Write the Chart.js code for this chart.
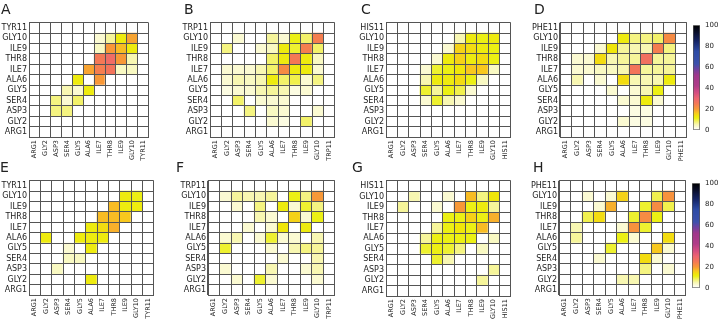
<!DOCTYPE html>
<html>
<head>
<meta charset="utf-8">
<script src="https://cdn.jsdelivr.net/npm/chart.js@4.4.0/dist/chart.umd.min.js"></script>
<style>
  body { margin: 0; background: #fff; }
  #fig { position: relative; width: 720px; height: 320px; overflow: hidden; font-family: "DejaVu Sans", sans-serif; }
  #fig canvas { position: absolute; }
  .tag { position: absolute; font-size: 14px; line-height: 1; color: #222; }
</style>
</head>
<body>
<div id="fig"></div>
<script>
// residues along both axes (last one differs per peptide)
const residues = ['ARG1', 'GLY2', 'ASP3', 'SER4', 'GLY5', 'ALA6', 'ILE7', 'THR8', 'ILE9', 'GLY10'];
const lastA = 'TYR11', lastB = 'TRP11', lastC = 'HIS11', lastD = 'PHE11';

// contact maps, rows from top (residue 11) to bottom (ARG1), columns ARG1..residue 11
const mapA = [
  [0,0,0,0,0,0,0,0,0,0,0],
  [0,0,0,0,0,0,3,6,12,19,0],
  [0,0,0,0,0,0,4,20,17,12,0],
  [0,0,0,0,0,0,25,28,20,5,0],
  [0,0,0,0,0,19,24,26,4,4,0],
  [0,0,0,0,12,0,20,0,0,0,0],
  [0,0,0,5,3,12,0,0,0,0,0],
  [0,0,7,3,8,0,0,0,0,0,0],
  [0,0,7,7,0,0,0,0,0,0,0],
  [0,0,0,0,0,0,0,0,0,0,0],
  [0,0,0,0,0,0,0,0,0,0,0]
];
const mapB = [
  [0,0,0,0,0,0,0,0,0,0,0],
  [0,0,3,0,0,6,3,11,8,24,0],
  [0,7,0,0,3,4,12,10,24,8,0],
  [0,0,0,0,0,8,12,25,12,4,0],
  [0,3,3,3,5,8,22,12,12,3,0],
  [0,3,5,4,5,12,8,9,3,7,0],
  [0,2,3,3,5,6,5,2,3,0,0],
  [0,0,8,0,3,3,3,0,0,0,0],
  [0,0,0,7,0,4,3,0,0,3,0],
  [0,0,0,0,0,3,2,0,8,0,0],
  [0,0,0,0,0,0,0,0,0,0,0]
];
const mapC = [
  [0,0,0,0,0,0,0,0,0,0,0],
  [0,0,0,0,0,0,5,12,11,12,0],
  [0,0,0,0,0,3,15,14,12,11,0],
  [0,0,0,0,3,12,15,12,14,11,0],
  [0,0,0,3,10,11,13,16,16,4,0],
  [0,0,0,5,12,12,14,11,4,0,0],
  [0,0,0,10,6,11,9,3,0,0,0],
  [0,0,0,3,10,5,3,0,0,0,0],
  [0,0,0,0,0,0,0,0,0,0,0],
  [0,0,0,0,0,0,0,0,0,0,0],
  [0,0,0,0,0,0,0,0,0,0,0]
];
const mapD = [
  [0,0,0,0,0,0,0,0,0,0,0],
  [0,0,0,0,0,12,7,7,8,22,0],
  [0,0,0,3,13,6,5,5,24,7,0],
  [0,3,3,14,5,6,6,27,6,6,0],
  [0,3,3,4,4,5,26,6,6,6,0],
  [0,5,0,3,0,14,5,5,5,12,0],
  [0,0,0,0,3,0,3,5,11,0,0],
  [0,0,0,0,0,3,3,12,3,0,0],
  [0,0,0,0,0,0,2,2,0,0,0],
  [0,0,0,0,0,3,2,2,0,0,0],
  [0,0,0,0,0,0,0,0,0,0,0]
];
const mapE = [
  [0,0,0,0,0,0,0,0,0,0,0],
  [0,0,0,0,0,0,0,0,12,11,0],
  [0,0,0,0,0,0,0,17,12,12,0],
  [0,0,0,0,0,0,17,17,16,0,0],
  [0,0,0,0,0,12,14,18,0,0,0],
  [0,12,0,0,12,12,12,0,0,0,0],
  [0,0,0,3,0,12,0,0,0,0,0],
  [0,0,0,4,4,0,0,0,0,0,0],
  [0,0,4,0,0,0,0,0,0,0,0],
  [0,0,0,0,0,12,0,0,0,0,0],
  [0,0,0,0,0,0,0,0,0,0,0]
];
const mapF = [
  [0,0,0,0,0,0,0,0,0,0,0],
  [0,3,6,5,5,6,0,11,7,20,0],
  [0,0,3,0,7,0,12,3,10,7,0],
  [0,0,0,0,5,3,0,15,3,11,0],
  [0,0,0,3,0,3,13,0,12,0,0],
  [0,3,5,0,3,10,3,3,0,5,0],
  [0,10,0,0,0,3,0,5,7,6,0],
  [0,0,0,0,0,0,3,0,0,5,0],
  [0,3,0,0,0,5,0,0,3,5,0],
  [0,0,3,0,10,3,0,0,0,3,0],
  [0,0,0,0,0,0,0,0,0,0,0]
];
const mapG = [
  [0,0,0,0,0,0,0,0,0,0,0],
  [0,0,5,0,0,3,0,17,7,13,0],
  [0,6,0,0,3,0,20,11,12,6,0],
  [0,0,0,0,0,11,11,15,11,18,0],
  [0,0,0,0,6,11,13,11,17,0,0],
  [0,0,0,6,11,11,11,11,0,4,0],
  [0,0,0,10,11,10,7,0,4,0,0],
  [0,0,0,0,10,5,0,0,0,0,0],
  [0,0,0,0,0,0,0,0,0,6,0],
  [0,0,0,0,0,0,0,0,6,0,0],
  [0,0,0,0,0,0,0,0,0,0,0]
];
const mapH = [
  [0,0,0,0,0,0,0,0,0,0,0],
  [0,0,3,0,3,15,0,0,9,21,0],
  [0,0,0,3,18,0,0,10,22,9,0],
  [0,0,9,14,0,0,10,22,11,0,0],
  [0,5,0,0,0,3,21,10,0,0,0],
  [0,6,0,0,0,11,3,0,0,14,0],
  [0,0,0,0,10,0,0,0,16,3,0],
  [0,0,0,3,0,0,0,14,3,0,0],
  [0,0,0,0,0,0,0,7,0,3,0],
  [0,0,0,0,0,5,5,0,0,0,0],
  [0,0,0,0,0,0,0,0,0,0,0]
];

const barTicks = [0, 20, 40, 60, 80, 100];
const barMarker = 20;

const FONT = '"DejaVu Sans", sans-serif';
const GRID = '#555';
const TXT = '#222';
const fig = document.getElementById('fig');

// white - yellow - orange - pink - purple - blue - black
const stops = [
  [0, [255,255,255]], [2, [252,252,226]], [5, [248,247,178]], [8, [243,242,105]],
  [11, [236,240,20]], [13, [240,230,10]], [16, [248,200,30]], [20, [248,152,55]],
  [25, [244,120,85]], [30, [238,100,112]], [36, [210,75,130]], [42, [176,60,136]],
  [52, [160,55,140]], [58, [110,65,160]], [63, [60,80,172]], [75, [45,75,165]],
  [85, [20,35,100]], [93, [10,15,45]], [100, [0,0,0]]
];
function heat(v) {
  if (v <= 0) return '#ffffff';
  for (let i = 1; i < stops.length; i++) {
    if (v <= stops[i][0]) {
      const [a, ca] = stops[i - 1], [b, cb] = stops[i];
      const t = (v - a) / (b - a);
      const c = ca.map((x, k) => Math.round(x + (cb[k] - x) * t));
      return 'rgb(' + c.join(',') + ')';
    }
  }
  return '#000';
}

function addCanvas(x, y, w, h) {
  const cv = document.createElement('canvas');
  cv.width = w; cv.height = h;
  cv.style.left = x + 'px'; cv.style.top = y + 'px';
  cv.style.width = w + 'px'; cv.style.height = h + 'px';
  fig.appendChild(cv);
  return cv;
}

function drawPanel(letter, matrix, last, box, tagPos) {
  const YW = 30, XH = 26;
  const labels = residues.concat([last]);
  const cv = addCanvas(box.x - YW, box.y - 2, box.w + YW + 2, box.h + XH + 2);
  const cells = [];
  matrix.forEach((row, i) => {
    const r = 10 - i;
    row.forEach((v, c) => cells.push({ x: labels[c], y: [r, r + 1], v: v }));
  });
  new Chart(cv, {
    type: 'bar',
    data: {
      labels: labels,
      datasets: [{
        data: cells,
        yAxisID: 'y',
        backgroundColor: ctx => heat(ctx.raw ? ctx.raw.v : 0),
        borderWidth: 0,
        barPercentage: 1,
        categoryPercentage: 1
      }]
    },
    options: {
      responsive: false,
      animation: false,
      layout: { padding: { left: 0, top: 2, right: 2, bottom: 0 } },
      plugins: { legend: { display: false }, tooltip: { enabled: false } },
      scales: {
        x: {
          offset: true,
          grid: { offset: true, color: GRID, z: 1, drawTicks: false },
          border: { color: GRID, z: 1 },
          ticks: { autoSkip: false, minRotation: 90, maxRotation: 90, padding: 3, color: TXT, font: { size: 6.5, family: FONT } },
          afterFit: s => { s.height = XH; }
        },
        y: {
          type: 'linear', min: 0, max: 11,
          ticks: { stepSize: 1, display: false },
          grid: { color: GRID, z: 1, drawTicks: false },
          border: { color: GRID, z: 1 }
        },
        yl: {
          type: 'category', labels: labels, position: 'left', offset: true, reverse: true,
          grid: { display: false, drawTicks: false }, border: { display: false },
          ticks: { autoSkip: false, padding: 2, color: TXT, font: { size: 8, family: FONT } },
          afterFit: s => { s.width = YW; }
        }
      }
    }
  });
  const tag = document.createElement('div');
  tag.className = 'tag';
  tag.textContent = letter;
  tag.style.left = tagPos[0] + 'px';
  tag.style.top = tagPos[1] + 'px';
  fig.appendChild(tag);
}

function drawColorbar(box) {
  const cv = addCanvas(box.x - 1, box.y - 2, box.w + 1 + 21, box.h + 4);
  new Chart(cv, {
    type: 'bar',
    data: {
      labels: ['scale'],
      datasets: [{
        data: [[barTicks[0], barTicks[barTicks.length - 1]]],
        grouped: false,
        backgroundColor: ctx => {
          const ca = ctx.chart.chartArea;
          if (!ca) return '#fff';
          const g = ctx.chart.ctx.createLinearGradient(0, ca.bottom, 0, ca.top);
          for (let v = 0; v <= 100; v += 1) g.addColorStop(v / 100, heat(v));
          return g;
        },
        borderColor: GRID, borderWidth: 1, borderSkipped: false,
        barPercentage: 1, categoryPercentage: 1
      }, {
        data: [[barMarker - 0.4, barMarker + 0.4]],
        grouped: false,
        backgroundColor: '#111', borderWidth: 0,
        barPercentage: 1, categoryPercentage: 1
      }]
    },
    options: {
      responsive: false,
      animation: false,
      layout: { padding: { left: 1, top: 2, right: 0, bottom: 2 } },
      plugins: { legend: { display: false }, tooltip: { enabled: false } },
      scales: {
        x: { display: false },
        y: {
          position: 'right', min: 0, max: 100,
          afterBuildTicks: s => { s.ticks = barTicks.map(v => ({ value: v })); },
          grid: { display: false, drawTicks: false }, border: { display: false },
          ticks: { padding: 5, color: TXT, font: { size: 7, family: FONT } },
          afterFit: s => { s.width = 21; }
        }
      }
    }
  });
}

drawPanel('A', mapA, lastA, { x: 29, y: 18, w: 123, h: 119 }, [1, 2]);
drawPanel('B', mapB, lastB, { x: 210, y: 18, w: 128, h: 119 }, [184, 2]);
drawPanel('C', mapC, lastC, { x: 386, y: 18, w: 128, h: 119 }, [361, 2]);
drawPanel('D', mapD, lastD, { x: 560, y: 18, w: 130, h: 119 }, [534, 2]);
drawPanel('E', mapE, lastA, { x: 29, y: 176, w: 128, h: 119 }, [0, 160]);
drawPanel('F', mapF, lastB, { x: 208, y: 176, w: 130, h: 119 }, [176, 160]);
drawPanel('G', mapG, lastC, { x: 386, y: 176, w: 128, h: 120 }, [352, 160]);
drawPanel('H', mapH, lastD, { x: 559, y: 176, w: 130, h: 119 }, [533, 160]);
drawColorbar({ x: 693, y: 18, w: 7, h: 119 });
drawColorbar({ x: 692, y: 176, w: 8, h: 119 });
</script>
</body>
</html>
